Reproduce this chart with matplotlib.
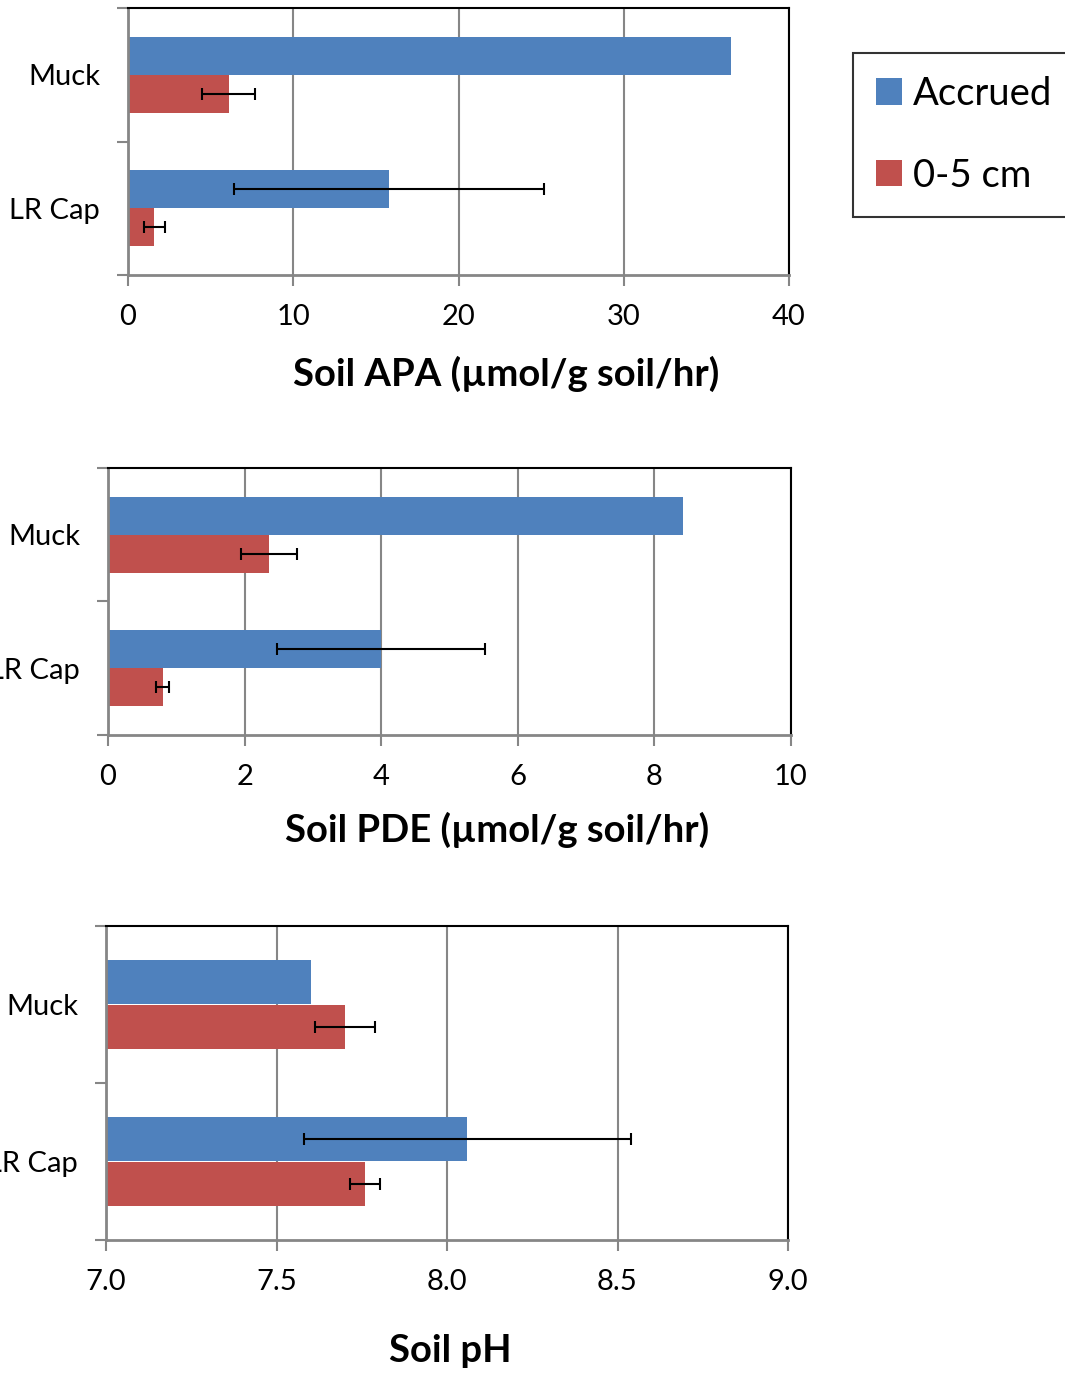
import numpy as np
import matplotlib
matplotlib.use("Agg")
import matplotlib.pyplot as plt
from matplotlib.patches import Patch

plt.rcParams['font.family'] = ['Lato', 'DejaVu Sans']

# data
sites = ['Muck', 'LR Cap']
series = ['Accrued', '0-5 cm']

apa_accrued = [36.5, 15.8]
apa_accrued_err = [0.0, 9.4]
apa_top = [6.1, 1.6]
apa_top_err = [1.6, 0.65]

pde_accrued = [8.42, 4.0]
pde_accrued_err = [0.0, 1.52]
pde_top = [2.36, 0.80]
pde_top_err = [0.41, 0.09]

ph_accrued = [7.60, 8.06]
ph_accrued_err = [0.0, 0.48]
ph_top = [7.70, 7.76]
ph_top_err = [0.088, 0.044]

blue = '#4F81BD'
red = '#C0504D'
grid_gray = '#868686'

W, H = 1065, 1374
fig = plt.figure(figsize=(W / 100, H / 100), dpi=100)


def px_axes(left, top, right, bottom):
    return fig.add_axes([left / W, 1 - bottom / H, (right - left) / W, (bottom - top) / H])


def panel(box, acc, acc_err, top, top_err, xlim, xticks, fmt, label, label_xy, base=0.0):
    ax = px_axes(*box)
    y = np.arange(len(sites))
    h = 0.285
    acc = np.array(acc)
    top = np.array(top)
    ax.barh(y - h / 2, acc - base, left=base, height=h, color=blue, zorder=2)
    ax.barh(y + h / 2, top - base, left=base, height=h, color=red, zorder=2)
    err_acc = np.array(acc_err)
    mask = err_acc > 0
    ax.errorbar(acc[mask], (y - h / 2)[mask], xerr=err_acc[mask], fmt='none',
                ecolor='black', elinewidth=1.5, capsize=4.3, capthick=1.5, zorder=3)
    ax.errorbar(top, y + h / 2, xerr=top_err, fmt='none',
                ecolor='black', elinewidth=1.5, capsize=4.3, capthick=1.5, zorder=3)

    ax.set_xlim(*xlim)
    ax.set_ylim(1.5, -0.5)
    ax.set_xticks(xticks)
    ax.set_xticklabels([fmt.format(v) for v in xticks], fontsize=21)
    ax.set_yticks([-0.5, 0.5, 1.5])
    ax.set_yticklabels([])
    ax.set_yticks(y, minor=True)
    ax.set_yticklabels(sites, minor=True, fontsize=21)
    ax.tick_params(axis='y', which='major', length=8, width=1.5, color=grid_gray, direction='out')
    ax.tick_params(axis='y', which='minor', length=0, pad=20)
    ax.tick_params(axis='x', length=8, width=1.5, color=grid_gray, direction='out', pad=13)
    ax.grid(axis='x', color=grid_gray, linewidth=1.5, zorder=0)
    ax.set_axisbelow(True)
    for s in ['left', 'bottom']:
        ax.spines[s].set_color(grid_gray)
        ax.spines[s].set_linewidth(2)
    for s in ['top', 'right']:
        ax.spines[s].set_color('black')
        ax.spines[s].set_linewidth(1.5)
    fig.text(label_xy[0] / W, 1 - label_xy[1] / H, label, ha='center', va='center',
             fontsize=27.5, fontweight='bold')
    return ax


panel((128, 8, 789, 275), apa_accrued, apa_accrued_err, apa_top, apa_top_err,
      (0, 40), [0, 10, 20, 30, 40], '{:g}', 'Soil APA (\u00b5mol/g soil/hr)', (506, 374))
panel((108, 468, 791, 735), pde_accrued, pde_accrued_err, pde_top, pde_top_err,
      (0, 10), [0, 2, 4, 6, 8, 10], '{:g}', 'Soil PDE (\u00b5mol/g soil/hr)', (497, 830))
panel((106, 926, 788, 1240), ph_accrued, ph_accrued_err, ph_top, ph_top_err,
      (7.0, 9.0), [7.0, 7.5, 8.0, 8.5, 9.0], '{:.1f}', 'Soil pH', (450, 1351), base=7.0)

handles = [Patch(facecolor=blue), Patch(facecolor=red)]
leg = fig.legend(handles, series, loc='upper left', bbox_to_anchor=(853 / W, 1 - 53 / H),
                 fontsize=27.5, frameon=True, fancybox=False, borderpad=0.6,
                 handlelength=0.68, handleheight=0.68, handletextpad=0.3,
                 labelspacing=1.2, borderaxespad=0)
leg.get_frame().set_edgecolor('black')
leg.get_frame().set_linewidth(1.5)

fig.savefig('out.png', dpi=100)
